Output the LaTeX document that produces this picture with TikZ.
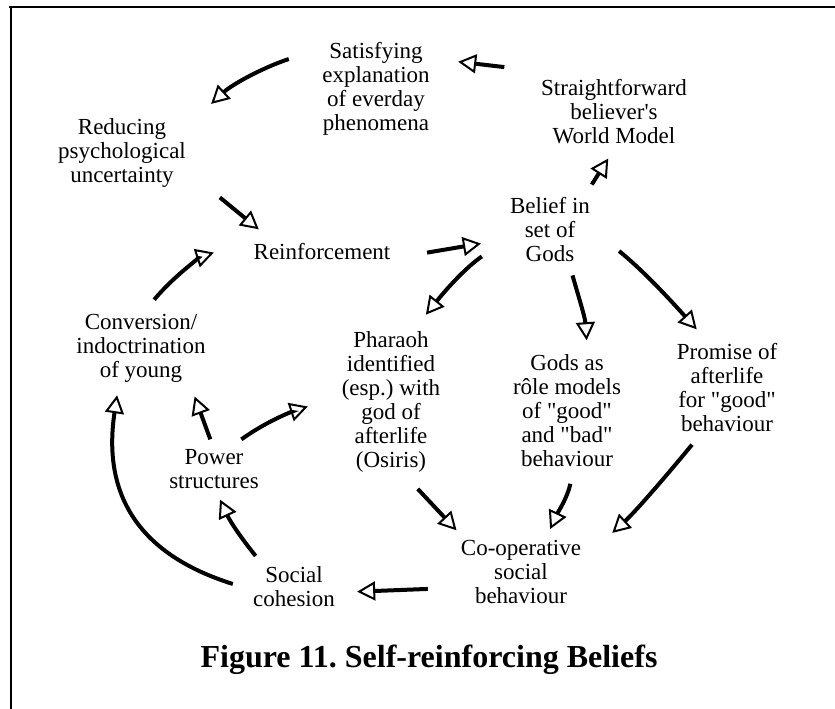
\documentclass[tikz,border=0pt]{standalone}
\usepackage{fontspec}
\setmainfont{Liberation Serif}
\usetikzlibrary{arrows.meta}
\frenchspacing

\begin{document}
\begin{tikzpicture}[
    x=1pt, y=1pt,
    idea/.style={align=center, inner sep=3pt, font=\fontsize{23}{24}\selectfont},
    flow/.style={line width=4pt, -{Triangle[open, length=18pt, width=19pt, line width'=2pt]}},
  ]
  \useasboundingbox (0,0) rectangle (835,-709);
  \draw[line width=2.2pt] (11,-709) -- (11,-7.3) (9,-7.3) -- (835,-7.3);

  \node[idea] (sat) at (376,-89) {Satisfying\\explanation\\of everday\\phenomena};
  \node[idea] (world) at (614,-112) {Straightforward\\believer\textquotesingle s\\World Model};
  \node[idea] (reduce) at (122,-153) {Reducing\\psychological\\uncertainty};
  \node[idea] (reinf) at (322,-252) {Reinforcement};
  \node[idea] (belief) at (550,-230) {Belief in\\set of\\Gods};
  \node[idea] (convert) at (141,-348) {Conversion/\\indoctrination\\of young};
  \node[idea] (pharaoh) at (391,-402) {Pharaoh\\identified\\(esp.) with\\god of\\afterlife\\(Osiris)};
  \node[idea] (models) at (567,-411) {Gods as\\rôle models\\of \textquotedbl good\textquotedbl\\and \textquotedbl bad\textquotedbl\\behaviour};
  \node[idea] (promise) at (727,-388) {Promise of\\afterlife\\for \textquotedbl good\textquotedbl\\behaviour};
  \node[idea] (power) at (214,-469) {Power\\structures};
  \node[idea] (coop) at (521,-572) {Co-operative\\social\\behaviour};
  \node[idea] (cohesion) at (294,-587) {Social\\cohesion};
  \node[font=\fontsize{32}{36}\selectfont\bfseries] (caption) at (429,-660) {Figure 11. Self-reinforcing Beliefs};

  \draw[flow, shorten <=81.5pt, shorten >=25.5pt] (world.129) -- (sat.28.5);
  \draw[flow, shorten <=31.9pt, shorten >=30.2pt] (sat.145.5) to[out=198, in=43] (reduce.23);
  \draw[flow, shorten <=39.8pt, shorten >=17.8pt] (reduce.-16.7) -- (reinf.167.2);
  \draw[flow, shorten <=34pt, shorten >=26.3pt] (reinf.-5.3) -- (belief.192.7);
  \draw[flow, shorten <=11.9pt, shorten >=13.1pt] (belief.45.4) -- (world.-88.1);
  \draw[flow, shorten <=30.4pt, shorten >=17.5pt] (belief.192.7) to[out=214.6, in=51.3] (pharaoh.72.3);
  \draw[flow, shorten <=10.4pt, shorten >=11.5pt] (belief.-61.5) to[out=-74, in=94] (models.71.9);
  \draw[flow, shorten <=33.4pt, shorten >=15.2pt] (belief.0) to[out=-39, in=132] (promise.113.1);
  \draw[flow, shorten <=12pt, shorten >=38pt] (promise.240.6) to[out=230.5, in=42.5] (coop.12.8);
  \draw[flow, shorten <=13.8pt, shorten >=8.8pt] (models.-84.4) to[out=258, in=65] (coop.54.6);
  \draw[flow, shorten <=18.2pt, shorten >=9.3pt] (pharaoh.-79) -- (coop.149.5);
  \draw[flow, shorten <=30pt, shorten >=19.1pt] (coop.194.8) -- (cohesion.-7.5);
  \draw[flow, shorten <=10pt, shorten >=8.6pt] (cohesion.144.8) to[out=129, in=-65] (power.-84.6);
  \draw[flow, shorten <=7.3pt, shorten >=11.9pt] (power.93) -- (convert.-37.3);
  \draw[flow, shorten <=11.7pt, shorten >=32.4pt] (power.52.3) to[out=35.5, in=198] (pharaoh.174.5);
  \draw[flow, shorten <=17.9pt, shorten >=10.1pt] (cohesion.183.1) to[out=162.6, in=261.5, looseness=1.2] (convert.239.8);
  \draw[flow, shorten <=14.4pt, shorten >=38.5pt] (convert.84.1) to[out=50, in=198] (reinf.171.3);
\end{tikzpicture}
\end{document}
